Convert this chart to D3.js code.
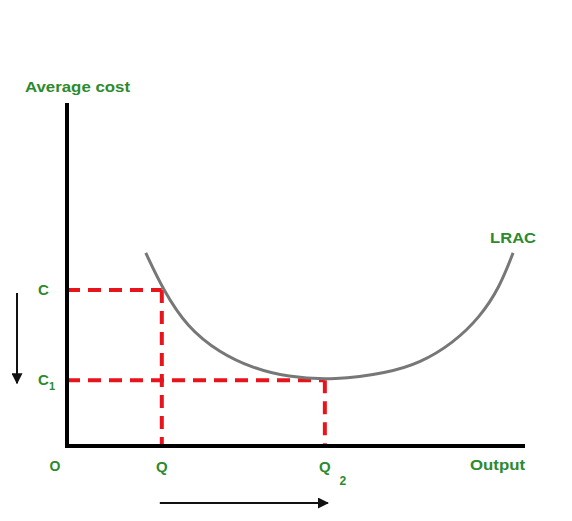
<!DOCTYPE html>
<html>
<head>
<meta charset="utf-8">
<script src="https://cdnjs.cloudflare.com/ajax/libs/d3/7.8.5/d3.min.js"></script>
<style>
  body { margin: 0; background: #fff; }
  text { font-family: "Liberation Sans", Arial, sans-serif; fill: #2d8a2d; font-weight: bold; }
</style>
</head>
<body>
<div id="chart"></div>
<script>
// LRAC curve (output, average cost)
var curveOutput = [17.2, 21.0, 26.2, 33.4, 40.6, 48.0, 58.5, 69.9, 77.1, 84.3, 90.2, 94.5, 97.4];
var curveCost   = [56.3, 45.5, 34.7, 27.1, 22.7, 20.1, 19.2, 21.3, 24.2, 30.0, 37.6, 46.4, 56.3];

// the two points on the axes
var outputLevels = [20.7, 56.3];   // Q, Q2
var costLevels   = [45.5, 19.2];   // C, C1
var outputLabels = ["Q", "Q"];
var costLabels   = ["C", "C"];
var subLabels    = ["", "1"];

var svgWidth = 572;
var svgHeight = 521;

var margin = { top: 103, right: 47, bottom: 75, left: 67 };
var width = svgWidth - margin.left - margin.right;
var height = svgHeight - margin.top - margin.bottom;

var svg = d3.select("#chart")
  .append("svg")
  .attr("width", svgWidth)
  .attr("height", svgHeight);

var defs = svg.append("defs");
defs.append("marker")
  .attr("id", "head")
  .attr("viewBox", "0 0 10 10")
  .attr("refX", 9).attr("refY", 5)
  .attr("markerWidth", 5.5).attr("markerHeight", 5.5)
  .attr("orient", "auto")
  .append("path")
  .attr("d", "M0,0 L10,5 L0,10 z")
  .attr("fill", "#111");

var chartGroup = svg.append("g")
  .attr("transform", `translate(${margin.left}, ${margin.top})`);

var x = d3.scaleLinear().domain([0, 100]).range([0, width]);
var y = d3.scaleLinear().domain([0, 100]).range([height, 0]);

// dashed guides
var red = "#e8141c";
outputLevels.forEach(function(q, i) {
  var c = costLevels[i];
  chartGroup.append("line")
    .attr("x1", 0).attr("x2", x(q))
    .attr("y1", y(c)).attr("y2", y(c))
    .attr("stroke", red).attr("stroke-width", 4)
    .attr("stroke-dasharray", "13,8");
  chartGroup.append("line")
    .attr("x1", x(q)).attr("x2", x(q))
    .attr("y1", y(c)).attr("y2", height)
    .attr("stroke", red).attr("stroke-width", 4)
    .attr("stroke-dasharray", "13,8");
});

// LRAC curve
var pts = curveOutput.map((d, i) => [d, curveCost[i]]);
var line = d3.line()
  .x(d => x(d[0]))
  .y(d => y(d[1]))
  .curve(d3.curveBasis);

chartGroup.append("path")
  .datum(pts)
  .attr("d", line)
  .attr("fill", "none")
  .attr("stroke", "#777")
  .attr("stroke-width", 3);

// axes
chartGroup.append("path")
  .attr("d", `M0,0 V${height} H${width}`)
  .attr("fill", "none")
  .attr("stroke", "#000")
  .attr("stroke-width", 4);

// labels
chartGroup.append("text")
  .attr("x", -42).attr("y", -11)
  .attr("font-size", 15)
  .attr("textLength", 105)
  .attr("lengthAdjust", "spacingAndGlyphs")
  .text("Average cost");

chartGroup.append("text")
  .attr("x", x(100) - 55).attr("y", height + 24)
  .attr("font-size", 15)
  .attr("font-weight", "normal")
  .attr("textLength", 55)
  .attr("lengthAdjust", "spacingAndGlyphs")
  .text("Output");

chartGroup.append("text")
  .attr("x", x(97.4) - 23).attr("y", y(56.3) - 10)
  .attr("font-size", 15)
  .attr("textLength", 46)
  .attr("lengthAdjust", "spacingAndGlyphs")
  .text("LRAC");

chartGroup.append("text")
  .attr("x", -12).attr("y", height + 25)
  .attr("font-size", 14)
  .attr("text-anchor", "middle")
  .text("O");

outputLevels.forEach(function(q, i) {
  chartGroup.append("text")
    .attr("x", x(q)).attr("y", height + 26)
    .attr("font-size", 15)
    .attr("text-anchor", "middle")
    .text(outputLabels[i]);
});
chartGroup.append("text")
  .attr("x", x(outputLevels[1]) + 18).attr("y", height + 39)
  .attr("font-size", 12)
  .attr("text-anchor", "middle")
  .text("2");

costLevels.forEach(function(c, i) {
  chartGroup.append("text")
    .attr("x", -29).attr("y", y(c) + 5)
    .attr("font-size", 15)
    .text(costLabels[i]);
  if (subLabels[i]) {
    chartGroup.append("text")
      .attr("x", -18).attr("y", y(c) + 10)
      .attr("font-size", 11)
      .text(subLabels[i]);
  }
});

// direction arrows
chartGroup.append("line")
  .attr("x1", -50).attr("x2", -50)
  .attr("y1", y(costLevels[0]) + 3).attr("y2", y(costLevels[1]) + 3)
  .attr("stroke", "#111").attr("stroke-width", 2)
  .attr("marker-end", "url(#head)");

chartGroup.append("line")
  .attr("x1", x(outputLevels[0]) - 2).attr("x2", x(outputLevels[1]) + 3)
  .attr("y1", height + 57).attr("y2", height + 57)
  .attr("stroke", "#111").attr("stroke-width", 2)
  .attr("marker-end", "url(#head)");
</script>
</body>
</html>
